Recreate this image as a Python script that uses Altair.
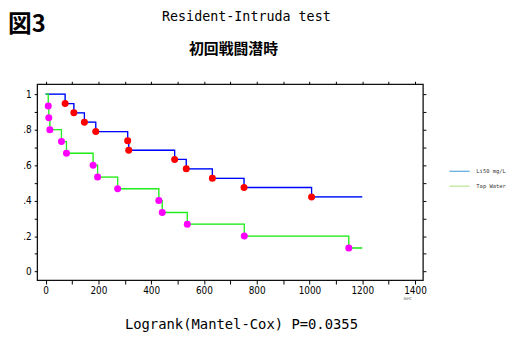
import altair as alt
import pandas as pd

# ---- data ----
groups = ["Li50 mg/L", "Tap Water"]
li_times = [74, 107, 147, 190, 311, 315, 489, 533, 632, 752, 1008]
li_surv = [0.947, 0.895, 0.842, 0.789, 0.737, 0.684, 0.632, 0.579, 0.526, 0.474, 0.421]
tap_times = [10, 12, 16, 60, 79, 180, 197, 273, 429, 442, 537, 753, 1149]
tap_surv = [0.933, 0.867, 0.800, 0.733, 0.667, 0.600, 0.533, 0.467, 0.400, 0.333, 0.267, 0.200, 0.133]
end_time = 1200
x_ticks = list(range(0, 1401, 100))
y_ticks = [round(i * 0.1, 1) for i in range(11)]

fig_label = ["図3"]
title_main = ["Resident-Intruda test"]
title_sub = ["初回戦闘潜時"]
footer = ["Logrank(Mantel-Cox) P=0.0355"]

rows_line, rows_pts = [], []
for g, ts, ss in [(groups[0], li_times, li_surv), (groups[1], tap_times, tap_surv)]:
    rows_line.append({"group": g, "t": 0, "s": 1.0})
    for t, s in zip(ts, ss):
        rows_line.append({"group": g, "t": t, "s": s})
        rows_pts.append({"group": g, "t": t, "s": s})
    rows_line.append({"group": g, "t": end_time, "s": ss[-1]})
line_df = pd.DataFrame(rows_line)
pts_df = pd.DataFrame(rows_pts)

W, H = 390, 198
xscale = alt.Scale(domain=[-32, 1430], nice=False, zero=False)
yscale = alt.Scale(domain=[-0.048, 1.056], nice=False, zero=False)
num_font = "Liberation Sans Narrow, DejaVu Sans Condensed, sans-serif"
mono = "DejaVu Sans Mono"

x_bottom = alt.Axis(values=x_ticks, format="d",
                    labelExpr="datum.value % 200 == 0 ? datum.label : ''",
                    tickSize=4, tickColor="black", domain=False, grid=False,
                    labelFont=num_font, labelFontSize=10, labelColor="black", labelPadding=2,
                    title="sec", titleFont=mono, titleFontSize=5, titleFontWeight="normal",
                    titleColor="#555", titleX=374, titleY=16, titleAlign="center")
x_top = alt.Axis(orient="top", values=x_ticks, labels=False, tickSize=3, tickColor="black",
                 domain=False, grid=False, title=None)
y_left = alt.Axis(values=y_ticks,
                  labelExpr="round(datum.value*10) % 2 == 0 ? replace(format(datum.value, '.1~f'), '0.', '.') : ''",
                  tickSize=3, tickColor="black", domain=False, grid=False,
                  labelFont=num_font, labelFontSize=10, labelColor="black", labelPadding=3, title=None)
y_right = alt.Axis(orient="right", values=y_ticks, labels=False, tickSize=3, tickColor="black",
                   domain=False, grid=False, title=None)

legend_layer = alt.Chart(line_df).mark_line(interpolate="step-after", strokeWidth=1).encode(
    x=alt.X("t:Q", scale=xscale, axis=x_bottom),
    y=alt.Y("s:Q", scale=yscale, axis=y_left),
    color=alt.Color("group:N", scale=alt.Scale(domain=groups, range=["#5aaae0", "#b9e68e"]),
                    legend=alt.Legend(title=None, orient="none", legendX=416, legendY=77,
                                      symbolType="stroke", symbolSize=420, symbolStrokeWidth=1.2,
                                      rowPadding=-1, padding=0, labelFont=mono, labelFontSize=5.5,
                                      labelColor="#333", labelOffset=6, labelLimit=0)),
)

main_line = alt.Chart(line_df).mark_line(interpolate="step-after", strokeWidth=1.3).encode(
    x=alt.X("t:Q", scale=xscale, axis=x_top),
    y=alt.Y("s:Q", scale=yscale, axis=y_right),
    color=alt.Color("group:N", scale=alt.Scale(domain=groups, range=["#0000ff", "#22ee22"]), legend=None),
)

points = alt.Chart(pts_df).mark_circle(size=50, opacity=1).encode(
    x=alt.X("t:Q", scale=xscale, axis=None),
    y=alt.Y("s:Q", scale=yscale, axis=None),
    color=alt.Color("group:N", scale=alt.Scale(domain=groups, range=["#ff0000", "#ff00ff"]), legend=None),
)

def label(values, **kw):
    pos = {k: kw.pop(k) for k in ["px", "py"]}
    return alt.Chart(pd.DataFrame({"label": values})).mark_text(**kw).encode(
        x=alt.value(pos["px"]), y=alt.value(pos["py"]), text="label:N")

fig_text = label(fig_label, px=-29.5, py=-53, align="left", baseline="alphabetic",
                 font="Noto Sans CJK JP", fontSize=24, fontWeight="bold", color="black")
main_text = label(title_main, px=211.5, py=-68, align="center", baseline="middle",
                  font=mono, fontSize=13.5, color="black")
sub_text = label(title_sub, px=198.5, py=-36, align="center", baseline="middle",
                 font="Noto Sans CJK JP", fontSize=15, fontWeight="bold", color="black")
foot_text = label(footer, px=206.5, py=243, align="center", baseline="middle",
                  font=mono, fontSize=14, color="black")

chart = alt.layer(legend_layer, main_line, points, fig_text, main_text, sub_text, foot_text).properties(
    width=W, height=H,
    padding={"left": 29.5, "top": 75.3, "right": 85, "bottom": 52},
    autosize=alt.AutoSizeParams(type="none"),
).resolve_scale(color="independent").resolve_axis(x="independent", y="independent").configure_view(
    stroke="#111", strokeWidth=1.3
)

chart.save("out.html", embed_options={"renderer": "svg", "actions": False})
